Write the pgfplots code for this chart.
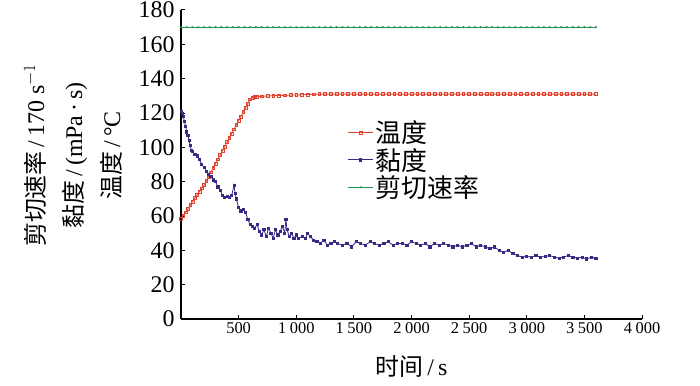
\documentclass[border=0pt]{standalone}
\usepackage{pgfplots}
\pgfplotsset{compat=1.18}
\usepackage{fontspec}
\setmainfont{Liberation Serif}
\newfontfamily\cjk{Noto Sans CJK SC}
\definecolor{cT}{HTML}{E2432F}
\definecolor{cV}{HTML}{3A2A86}
\definecolor{cS}{HTML}{1E9648}
\begin{document}
\begin{tikzpicture}
\begin{axis}[
  scale only axis, width=461bp, height=309bp,
  xmin=0, xmax=4000, ymin=0, ymax=180,
  axis x line*=bottom, axis y line*=left,
  axis line style={line width=1.2pt},
  xtick={500,1000,...,4000}, ytick={0,20,...,180},
  tick align=inside, major tick length=4pt,
  tick style={line width=1pt, black},
  /pgf/number format/assume math mode=true,
  /pgf/number format/1000 sep={\hspace{0.22em}},
  xticklabel style={font=\fontsize{16.5}{16.5}\selectfont},
  yticklabel style={font=\fontsize{24}{24}\selectfont, xshift=-3pt},
  xlabel={{\cjk 时间}\,/\,s},
  xlabel style={font=\fontsize{24}{24}\selectfont, yshift=-15pt},
  ylabel={\begin{tabular}{c}{\cjk 剪切速率}\,/\,170 s$^{-1}$\\[10pt]{\cjk 黏度}\,/\,(mPa\,·\,s)\\[10pt]{\cjk 温度}\,/\,°C\end{tabular}},
  ylabel style={font=\fontsize{24}{26}\selectfont, at={(axis description cs:-0.228,0.53)}, anchor=center},
  legend cell align=left,
  legend style={draw=none, fill=none, at={(0.355,0.655)}, anchor=north west,
    font=\cjk\fontsize{26}{28}\selectfont, row sep=0pt},
  legend image code/.code={\draw[mark repeat=2,mark phase=2] plot coordinates {(0cm,0cm) (0.44cm,0cm) (0.88cm,0cm)};},
]
\addplot[color=cT, line width=0.8pt, mark=square, mark size=1.4pt, mark options={fill=white, line width=0.6pt}] coordinates {
(0,58.5) (20,60.3) (40,62.2) (60,64.2) (80,66.3) (100,68.5) (120,70.4) (140,72.3) (160,74.2) (180,76.1)
(200,78) (220,80.5) (240,83) (260,85.5) (280,88) (300,90.5) (320,93) (340,95.5) (360,98) (380,100.5)
(400,103) (420,105.5) (440,108) (460,110.5) (480,113) (500,115.5) (520,118) (540,120.5) (560,123) (580,125.5)
(600,128) (620,129) (640,129.3) (660,129.5) (700,129.7) (750,129.9) (800,130.1) (850,130.2) (900,130.3) (950,130.4)
(1000,130.5) (1050,130.6) (1100,130.8) (1150,130.9) (1200,131) (1250,131) (1300,131) (1350,131) (1400,131) (1450,131)
(1500,131) (1550,131) (1600,131) (1650,131) (1700,131) (1750,131) (1800,131) (1850,131) (1900,131) (1950,131)
(2000,131) (2050,131) (2100,131) (2150,131) (2200,131) (2250,131) (2300,131) (2350,131) (2400,131) (2450,131)
(2500,131) (2550,131) (2600,131) (2650,131) (2700,131) (2750,131) (2800,131) (2850,131) (2900,131) (2950,131)
(3000,131) (3050,131) (3100,131) (3150,131) (3200,131) (3250,131) (3300,131) (3350,131) (3400,131) (3450,131)
(3500,131) (3550,131) (3600,131)
};
\addlegendentry{温度}
\addplot[color=cV, line width=0.8pt, mark=square*, mark size=1.1pt] coordinates {
(0,121) (10,120) (20,118) (30,115) (40,112) (50,109) (60,107) (70,104) (80,101) (90,98)
(100,97.5) (120,96) (140,95) (160,93) (180,90) (200,88.5) (220,86) (240,84) (260,83) (280,81)
(300,80) (320,77) (340,75) (360,72) (380,71) (400,71.5) (420,71) (440,72) (460,78) (470,73)
(480,70) (500,65) (520,63) (540,64) (560,62) (580,58) (600,55) (620,54) (640,53) (660,55)
(680,51) (700,49) (720,52) (740,48) (760,53) (780,50) (800,47) (820,52) (840,49) (860,51)
(880,54) (900,50) (910,58) (920,52) (940,48) (960,50) (980,47) (1000,49) (1020,47) (1050,48)
(1080,47) (1100,50) (1120,48) (1150,46) (1180,45) (1210,44) (1240,46) (1270,43) (1300,44) (1330,45)
(1360,44) (1400,43) (1440,44) (1480,42) (1520,45) (1560,44) (1600,43) (1640,45) (1680,44) (1720,43)
(1760,44) (1800,45) (1840,43) (1880,44) (1920,44) (1960,43) (2000,45) (2040,44) (2080,43) (2120,44)
(2160,42) (2200,44) (2240,43) (2280,44) (2320,43) (2360,42) (2400,43) (2440,42) (2480,43) (2520,44)
(2560,42) (2600,43) (2640,42) (2680,41) (2720,42) (2760,40) (2800,39) (2840,40) (2880,38) (2920,37)
(2960,36) (3000,36.5) (3040,36) (3080,37) (3120,36) (3160,36.5) (3200,37) (3240,36) (3280,35.5) (3320,36)
(3360,37) (3400,36) (3440,35.5) (3480,36) (3520,35) (3560,36) (3600,35.5)
};
\addlegendentry{黏度}
\addplot[color=cS, line width=0.8pt, mark=asterisk, mark size=1.2pt, mark options={line width=0.4pt}] coordinates {
(0,170) (50,170) (100,170) (150,170) (200,170) (250,170) (300,170) (350,170) (400,170) (450,170)
(500,170) (550,170) (600,170) (650,170) (700,170) (750,170) (800,170) (850,170) (900,170) (950,170)
(1000,170) (1050,170) (1100,170) (1150,170) (1200,170) (1250,170) (1300,170) (1350,170) (1400,170) (1450,170)
(1500,170) (1550,170) (1600,170) (1650,170) (1700,170) (1750,170) (1800,170) (1850,170) (1900,170) (1950,170)
(2000,170) (2050,170) (2100,170) (2150,170) (2200,170) (2250,170) (2300,170) (2350,170) (2400,170) (2450,170)
(2500,170) (2550,170) (2600,170) (2650,170) (2700,170) (2750,170) (2800,170) (2850,170) (2900,170) (2950,170)
(3000,170) (3050,170) (3100,170) (3150,170) (3200,170) (3250,170) (3300,170) (3350,170) (3400,170) (3450,170)
(3500,170) (3550,170) (3600,170)
};
\addlegendentry{剪切速率}
\coordinate (O) at (rel axis cs:0,0);
\end{axis}
\pgfresetboundingbox
\path[use as bounding box] ([shift={(-181bp,-67bp)}]O) rectangle ++(700bp,386bp);
\end{tikzpicture}
\end{document}
